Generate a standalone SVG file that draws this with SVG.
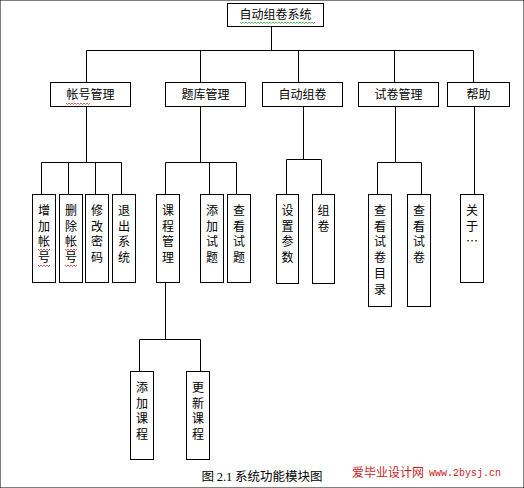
<svg xmlns="http://www.w3.org/2000/svg" width="524" height="488" viewBox="0 0 524 488">
<style>
rect{fill:#fff;stroke:#000;stroke-width:1}
.c path{fill:none;stroke:#000;stroke-width:1}
text{font-family:"Noto Sans CJK SC","Noto Sans",sans-serif;font-size:12px;fill:#000;text-anchor:middle}
.sq{fill:none;stroke-width:0.8}
</style>
<rect width="524" height="488" fill="#fff" stroke="none"/>
<g class="c" id="connectors">
<path d="M271.5 26V50.5M86.5 50.5H473.5M86.5 50.5V82M200.5 50.5V82M298.5 50.5V82M394.5 50.5V82M473.5 50.5V82"/>
<path d="M86.5 106V162.5M41.5 162.5H121.5M41.5 162.5V194M68.5 162.5V194M95.5 162.5V194M121.5 162.5V194"/>
<path d="M200.5 106V162.5M165.5 162.5H236.5M165.5 162.5V194M209.5 162.5V194M236.5 162.5V194"/>
<path d="M303.5 106V159.5M286.5 159.5H321.5M286.5 159.5V194M321.5 159.5V194"/>
<path d="M395.5 106V162.5M377.5 162.5H421.5M377.5 162.5V194M421.5 162.5V194"/>
<path d="M474.5 106V194"/>
<path d="M165.5 282V339.5M139.5 339.5H200.5M139.5 339.5V371M200.5 339.5V371"/>
</g>
<g id="root"><rect x="227.5" y="3.5" width="96" height="23"/><text x="275.5" y="19">自动组卷系统</text>
<path class="sq" stroke="#3a3" d="M240 22l1.5 1.5 1.5-1.5 1.5 1.5 1.5-1.5 1.5 1.5 1.5-1.5 1.5 1.5 1.5-1.5 1.5 1.5 1.5-1.5 1.5 1.5 1.5-1.5 1.5 1.5 1.5-1.5 1.5 1.5 1.5-1.5 1.5 1.5 1.5-1.5 1.5 1.5 1.5-1.5 1.5 1.5 1.5-1.5 1.5 1.5 1.5-1.5 1.5 1.5 1.5-1.5 1.5 1.5 1.5-1.5 1.5 1.5 1.5-1.5 1.5 1.5 1.5-1.5 1.5 1.5 1.5-1.5 1.5 1.5 1.5-1.5 1.5 1.5 1.5-1.5 1.5 1.5 1.5-1.5 1.5 1.5 1.5-1.5 1.5 1.5 1.5-1.5 1.5 1.5 1.5-1.5 1.5 1.5 1.5-1.5 1.5 1.5 1.5-1.5"/></g>
<g id="n-zhanghao"><rect x="50.5" y="82.5" width="80" height="24"/><text x="90.5" y="99">帐号管理</text>
<path class="sq" stroke="#c33" d="M66 103l1.5 1.5 1.5-1.5 1.5 1.5 1.5-1.5 1.5 1.5 1.5-1.5 1.5 1.5 1.5-1.5 1.5 1.5 1.5-1.5 1.5 1.5 1.5-1.5 1.5 1.5 1.5-1.5 1.5 1.5 1.5-1.5"/></g>
<g id="n-tiku"><rect x="165.5" y="82.5" width="80" height="24"/><text x="205.5" y="99">题库管理</text></g>
<g id="n-zidong"><rect x="262.5" y="82.5" width="80" height="24"/><text x="302.5" y="99">自动组卷</text></g>
<g id="n-shijuan"><rect x="358.5" y="82.5" width="80" height="24"/><text x="398.5" y="99">试卷管理</text></g>
<g id="n-bangzhu"><rect x="447.5" y="82.5" width="62" height="24"/><text x="478.5" y="99">帮助</text></g>
<g id="n-zengjia"><rect x="32.5" y="194.5" width="23" height="88"/><text><tspan x="44" y="215">增</tspan><tspan x="44" dy="15.7">加</tspan><tspan x="44" dy="15.7">帐</tspan><tspan x="44" dy="15.7">号</tspan></text>
<path class="sq" stroke="#c33" d="M38 249l1.5 1.5 1.5-1.5 1.5 1.5 1.5-1.5 1.5 1.5 1.5-1.5 1.5 1.5 1.5-1.5M38 265l1.5 1.5 1.5-1.5 1.5 1.5 1.5-1.5 1.5 1.5 1.5-1.5 1.5 1.5 1.5-1.5"/></g>
<g id="n-shanchu"><rect x="59.5" y="194.5" width="23" height="88"/><text><tspan x="71" y="215">删</tspan><tspan x="71" dy="15.7">除</tspan><tspan x="71" dy="15.7">帐</tspan><tspan x="71" dy="15.7">号</tspan></text>
<path class="sq" stroke="#c33" d="M65 249l1.5 1.5 1.5-1.5 1.5 1.5 1.5-1.5 1.5 1.5 1.5-1.5 1.5 1.5 1.5-1.5M65 265l1.5 1.5 1.5-1.5 1.5 1.5 1.5-1.5 1.5 1.5 1.5-1.5 1.5 1.5 1.5-1.5"/></g>
<g id="n-xiugai"><rect x="85.5" y="194.5" width="23" height="88"/><text><tspan x="97" y="215">修</tspan><tspan x="97" dy="15.7">改</tspan><tspan x="97" dy="15.7">密</tspan><tspan x="97" dy="15.7">码</tspan></text></g>
<g id="n-tuichu"><rect x="112.5" y="194.5" width="23" height="88"/><text><tspan x="124" y="215">退</tspan><tspan x="124" dy="15.7">出</tspan><tspan x="124" dy="15.7">系</tspan><tspan x="124" dy="15.7">统</tspan></text></g>
<g id="n-kecheng"><rect x="156.5" y="194.5" width="23" height="88"/><text><tspan x="168" y="215">课</tspan><tspan x="168" dy="15.7">程</tspan><tspan x="168" dy="15.7">管</tspan><tspan x="168" dy="15.7">理</tspan></text></g>
<g id="n-tianjiast"><rect x="200.5" y="194.5" width="23" height="88"/><text><tspan x="212" y="215">添</tspan><tspan x="212" dy="15.7">加</tspan><tspan x="212" dy="15.7">试</tspan><tspan x="212" dy="15.7">题</tspan></text></g>
<g id="n-chakanst"><rect x="227.5" y="194.5" width="23" height="88"/><text><tspan x="239" y="215">查</tspan><tspan x="239" dy="15.7">看</tspan><tspan x="239" dy="15.7">试</tspan><tspan x="239" dy="15.7">题</tspan></text></g>
<g id="n-shezhi"><rect x="276.5" y="194.5" width="22" height="89"/><text><tspan x="287.5" y="215">设</tspan><tspan x="287.5" dy="15.7">置</tspan><tspan x="287.5" dy="15.7">参</tspan><tspan x="287.5" dy="15.7">数</tspan></text></g>
<g id="n-zujuan"><rect x="312.5" y="194.5" width="22" height="89"/><text><tspan x="323.5" y="215">组</tspan><tspan x="323.5" dy="15.7">卷</tspan></text></g>
<g id="n-chakanml"><rect x="368.5" y="194.5" width="23" height="112"/><text><tspan x="380" y="215">查</tspan><tspan x="380" dy="15.7">看</tspan><tspan x="380" dy="15.7">试</tspan><tspan x="380" dy="15.7">卷</tspan><tspan x="380" dy="15.7">目</tspan><tspan x="380" dy="15.7">录</tspan></text></g>
<g id="n-chakansj"><rect x="407.5" y="194.5" width="23" height="112"/><text><tspan x="419" y="215">查</tspan><tspan x="419" dy="15.7">看</tspan><tspan x="419" dy="15.7">试</tspan><tspan x="419" dy="15.7">卷</tspan></text></g>
<g id="n-guanyu"><rect x="460.5" y="194.5" width="23" height="88"/><text><tspan x="472" y="215">关</tspan><tspan x="472" dy="15.7">于</tspan><tspan x="472" dy="15.7">…</tspan></text></g>
<g id="n-tianjiakc"><rect x="130.5" y="371.5" width="23" height="88"/><text><tspan x="142" y="392">添</tspan><tspan x="142" dy="15.7">加</tspan><tspan x="142" dy="15.7">课</tspan><tspan x="142" dy="15.7">程</tspan></text></g>
<g id="n-gengxin"><rect x="186.5" y="371.5" width="23" height="88"/><text><tspan x="198" y="392">更</tspan><tspan x="198" dy="15.7">新</tspan><tspan x="198" dy="15.7">课</tspan><tspan x="198" dy="15.7">程</tspan></text></g>
<text x="262" y="481" style="font-size:12.5px">图 <tspan style="font-family:'Liberation Serif',serif">2.1</tspan> 系统功能模块图</text>
<text x="352" y="477" style="text-anchor:start;fill:#c41e1e;font-size:12px">爱毕业设计网</text>
<text x="429" y="476" style="text-anchor:start;fill:#c41e1e;font-family:'Liberation Mono',monospace;font-size:10px">www.2bysj.cn</text>
</svg>
